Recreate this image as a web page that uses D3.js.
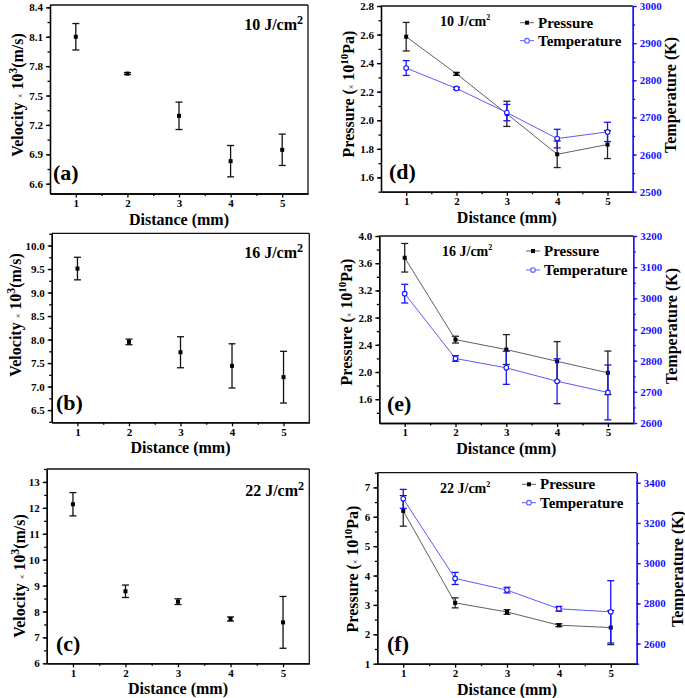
<!DOCTYPE html>
<html>
<head>
<meta charset="utf-8">
<title>Velocity, pressure and temperature vs distance</title>
<script src="https://cdn.jsdelivr.net/npm/d3@7/dist/d3.min.js"></script>
<style>
  body { margin: 0; background: #fff; }
  svg { display: block; font-family: "Liberation Serif", "Times New Roman", serif; font-weight: bold; }
  .axis text { font-family: "Liberation Serif", serif; font-weight: bold; font-size: 11px; }
  .axis path, .axis line { stroke-width: 1.3; }
</style>
</head>
<body>
<svg width="685" height="698"></svg>
<script>
// distances along the x axis (mm)
var distance = [1, 2, 3, 4, 5];

// velocity (x10^3 m/s) for the three fluences, with error half-widths
var velA = [8.10, 7.724, 7.293, 6.83, 6.946];
var velAErr = [0.135, 0.01, 0.14, 0.16, 0.16];
var velB = [9.51, 7.95, 7.73, 7.44, 7.20];
var velBErr = [0.24, 0.06, 0.33, 0.47, 0.55];
var velC = [12.14, 8.78, 8.38, 7.71, 7.58];
var velCErr = [0.45, 0.24, 0.11, 0.08, 1.0];

// pressure (x10^10 Pa) and temperature (K)
var presD = [2.585, 2.325, 2.045, 1.762, 1.83];
var presDErr = [0.1, 0.01, 0.088, 0.093, 0.098];
var tempD = [2833, 2778, 2713, 2643, 2661];
var tempDErr = [20, 3, 22, 25, 26];

var presE = [3.68, 2.476, 2.33, 2.157, 1.988];
var presEErr = [0.21, 0.05, 0.22, 0.29, 0.32];
var tempE = [3015, 2807, 2777, 2734, 2698];
var tempEErr = [30, 9, 53, 72, 88];

var presF = [6.2, 3.07, 2.76, 2.31, 2.23];
var presFErr = [0.52, 0.17, 0.08, 0.05, 0.58];
var tempF = [3320, 2924, 2866, 2773, 2758];
var tempFErr = [47, 30, 14, 12, 155];

// tick labels
var ticksA = [6.6, 6.9, 7.2, 7.5, 7.8, 8.1, 8.4];
var ticksB = [6.5, 7.0, 7.5, 8.0, 8.5, 9.0, 9.5, 10.0];
var ticksC = [6, 7, 8, 9, 10, 11, 12, 13];
var ticksD = [1.6, 1.8, 2.0, 2.2, 2.4, 2.6, 2.8];
var ticksDR = [2500, 2600, 2700, 2800, 2900, 3000];
var ticksE = [1.6, 2.0, 2.4, 2.8, 3.2, 3.6, 4.0];
var ticksER = [2600, 2700, 2800, 2900, 3000, 3100, 3200];
var ticksF = [1, 2, 3, 4, 5, 6, 7];
var ticksFR = [2600, 2800, 3000, 3200, 3400];

var BLUE = "#1414ff", LBLUE = "#5a5aff", GREY = "#606060";

var svg = d3.select("svg");

function range(a, b, s) {
  var out = [];
  for (var v = a; v <= b + 1e-9; v += s) out.push(+v.toFixed(4));
  return out;
}

// writes text made of pieces (for superscripts and the little ×)
function rich(t, parts) {
  parts.forEach(function(p) {
    var s = t.append("tspan").text(p.t);
    if (p.size) s.style("font-size", p.size + "px");
    if (p.dy) s.attr("dy", p.dy);
    if (p.w) s.style("font-weight", p.w);
  });
}

function velLabel(t) {
  rich(t, [{t: "Velocity "}, {t: "×", size: 8, w: "normal"}, {t: " 10"}, {t: "3", size: 12, dy: -6}, {t: "(m/s)", dy: 6}]);
}
function presLabel(t) {
  rich(t, [{t: "Pressure ("}, {t: "×", size: 8, w: "normal"}, {t: " 10"}, {t: "10", size: 11, dy: -6}, {t: "Pa)", dy: 6}]);
}

function drawPanel(p) {
  var x = d3.scaleLinear().domain([0.5, 5.5]).range([p.x0, p.x1]);
  var y = d3.scaleLinear().domain(p.yDom).range([p.y1, p.y0]);
  var g = svg.append("g");

  // frame top + right
  g.append("line").attr("x1", p.x0).attr("x2", p.x1).attr("y1", p.y0).attr("y2", p.y0)
    .attr("stroke", "#111").attr("stroke-width", 1.3);
  if (!p.right)
    g.append("line").attr("x1", p.x1).attr("x2", p.x1).attr("y1", p.y0).attr("y2", p.y1)
      .attr("stroke", "#111").attr("stroke-width", 1.3);

  // x axis
  g.append("g").attr("class", "axis").attr("transform", "translate(0," + p.y1 + ")")
    .call(d3.axisBottom(x).tickValues([1.5, 2.5, 3.5, 4.5]).tickSize(2.5).tickSizeOuter(0).tickFormat(""));
  g.append("g").attr("class", "axis").attr("transform", "translate(0," + p.y1 + ")")
    .call(d3.axisBottom(x).tickValues(distance).tickSize(4).tickPadding(1.5).tickSizeOuter(0).tickFormat(d3.format("d")));

  // left axis
  g.append("g").attr("class", "axis").attr("transform", "translate(" + p.x0 + ",0)")
    .call(d3.axisLeft(y).tickValues(range(p.yDom[0] + p.minorOff, p.yDom[1], p.minor)).tickSize(2.5).tickSizeOuter(0).tickFormat(""));
  g.append("g").attr("class", "axis").attr("transform", "translate(" + p.x0 + ",0)")
    .call(d3.axisLeft(y).tickValues(p.yTicks).tickSize(4).tickSizeOuter(0).tickFormat(d3.format(p.fmt)));

  // x title
  g.append("text").attr("x", (p.x0 + p.x1) / 2).attr("y", p.y1 + 31)
    .attr("text-anchor", "middle").style("font-size", "16px").text("Distance (mm)");

  // y title
  var yl = g.append("text").attr("transform", "translate(" + p.ylx + "," + p.yly + ") rotate(-90)")
    .attr("text-anchor", "middle").attr("dy", "0.35em").style("font-size", "16px");
  p.ylabel(yl);

  // panel letter
  g.append("text").attr("x", p.lx).attr("y", p.ly).style("font-size", "22px").text(p.letter);

  var yR = null;
  if (p.right) {
    yR = d3.scaleLinear().domain(p.right.dom).range([p.y1, p.y0]);
    var ra = g.append("g").attr("class", "axis").attr("transform", "translate(" + p.x1 + ",0)");
    ra.call(d3.axisRight(yR).tickValues(range(p.right.dom[0], p.right.dom[1], p.right.minor)).tickSize(2.5).tickSizeOuter(0).tickFormat(""));
    var rb = g.append("g").attr("class", "axis").attr("transform", "translate(" + p.x1 + ",0)")
      .call(d3.axisRight(yR).tickValues(p.right.ticks).tickSize(4).tickSizeOuter(0).tickFormat(d3.format("d")));
    ra.selectAll("path, line").attr("stroke", BLUE);
    rb.selectAll("path, line").attr("stroke", BLUE);
    rb.selectAll("text").attr("fill", BLUE);
    ra.select("path").attr("stroke-width", 1.6);
    g.append("text").attr("transform", "translate(" + p.right.lx + "," + p.right.ly + ") rotate(-90)")
      .attr("text-anchor", "middle").attr("dy", "0.35em").style("font-size", "16px").text("Temperature (K)");
  }

  // title of the fluence
  var tt = g.append("text").attr("x", p.tx).attr("y", p.ty).attr("text-anchor", p.tAnchor)
    .style("font-size", p.tSize + "px");
  rich(tt, [{t: p.fluence + " J/cm"}, {t: "2", size: p.supSize, dy: -6}]);

  p.series.forEach(function(s) {
    var sy = s.axis === "right" ? yR : y;
    var pts = distance.map(function(d, i) { return {x: d, v: s.values[i], e: s.errs[i]}; });
    if (s.line) {
      g.append("path").datum(pts).attr("fill", "none").attr("stroke", s.line).attr("stroke-width", 1)
        .attr("d", d3.line().x(function(d) { return x(d.x); }).y(function(d) { return sy(d.v); }));
    }
    var eb = g.append("g").attr("stroke", s.color).attr("stroke-width", 1.3).attr("fill", "none");
    pts.forEach(function(d) {
      var cx = x(d.x), t = sy(d.v + d.e), b = sy(d.v - d.e);
      eb.append("line").attr("x1", cx).attr("x2", cx).attr("y1", t).attr("y2", b);
      eb.append("line").attr("x1", cx - 3.5).attr("x2", cx + 3.5).attr("y1", t).attr("y2", t);
      eb.append("line").attr("x1", cx - 3.5).attr("x2", cx + 3.5).attr("y1", b).attr("y2", b);
    });
    if (s.marker === "circle") {
      g.selectAll(null).data(pts).enter().append("circle")
        .attr("cx", function(d) { return x(d.x); }).attr("cy", function(d) { return sy(d.v); })
        .attr("r", 2.3).attr("fill", "#fff").attr("stroke", s.color).attr("stroke-width", 1.1);
    } else {
      g.selectAll(null).data(pts).enter().append("rect")
        .attr("x", function(d) { return x(d.x) - 2; }).attr("y", function(d) { return sy(d.v) - 2; })
        .attr("width", 4).attr("height", 4).attr("fill", "#000");
    }
  });

  if (p.legend) {
    var L = p.legend;
    [{name: "Pressure", color: "#111", line: GREY, marker: "square", y: L.y1},
     {name: "Temperature", color: LBLUE, line: LBLUE, marker: "circle", y: L.y2}].forEach(function(it) {
      g.append("line").attr("x1", L.x).attr("x2", L.x + 14).attr("y1", it.y).attr("y2", it.y)
        .attr("stroke", it.line).attr("stroke-width", 1);
      if (it.marker === "circle")
        g.append("circle").attr("cx", L.x + 7).attr("cy", it.y).attr("r", 2.3)
          .attr("fill", "#fff").attr("stroke", it.color).attr("stroke-width", 1.1);
      else
        g.append("rect").attr("x", L.x + 5).attr("y", it.y - 2).attr("width", 4).attr("height", 4).attr("fill", "#000");
      g.append("text").attr("x", L.x + 18).attr("y", it.y + 5).style("font-size", "15px").text(it.name);
    });
  }
}

drawPanel({
  x0: 50, x1: 308, y0: 5, y1: 193.5, yDom: [6.5, 8.424], yTicks: ticksA, fmt: ".1f", minor: 0.15, minorOff: 0.1,
  ylabel: velLabel, ylx: 17, yly: 95, letter: "(a)", lx: 53, ly: 180,
  fluence: "10", tx: 303, ty: 30, tAnchor: "end", tSize: 16, supSize: 12,
  series: [{values: velA, errs: velAErr, color: "#111", marker: "square"}]
});
drawPanel({
  x0: 51.7, x1: 309.3, y0: 233.3, y1: 422.3, yDom: [6.24, 10.26], yTicks: ticksB, fmt: ".1f", minor: 0.25, minorOff: 0.01,
  ylabel: velLabel, ylx: 15, yly: 315, letter: "(b)", lx: 56, ly: 410,
  fluence: "16", tx: 303, ty: 258, tAnchor: "end", tSize: 16, supSize: 12,
  series: [{values: velB, errs: velBErr, color: "#111", marker: "square"}]
});
drawPanel({
  x0: 46.7, x1: 309.3, y0: 469, y1: 663.3, yDom: [6, 13.5], yTicks: ticksC, fmt: "d", minor: 0.5, minorOff: 0,
  ylabel: velLabel, ylx: 19, yly: 576, letter: "(c)", lx: 56, ly: 651,
  fluence: "22", tx: 304, ty: 496, tAnchor: "end", tSize: 16, supSize: 12,
  series: [{values: velC, errs: velCErr, color: "#111", marker: "square"}]
});
drawPanel({
  x0: 381, x1: 632.7, y0: 6, y1: 191.7, yDom: [1.5, 2.8], yTicks: ticksD, fmt: ".1f", minor: 0.1, minorOff: 0,
  ylabel: presLabel, ylx: 348, yly: 94, letter: "(d)", lx: 389, ly: 179,
  fluence: "10", tx: 440, ty: 25.5, tAnchor: "start", tSize: 14, supSize: 8,
  right: {dom: [2500, 3000], ticks: ticksDR, minor: 50, lx: 670, ly: 95},
  legend: {x: 520, y1: 22.7, y2: 40.7},
  series: [
    {values: presD, errs: presDErr, color: "#222", marker: "square", line: GREY},
    {values: tempD, errs: tempDErr, color: BLUE, marker: "circle", line: LBLUE, axis: "right"}
  ]
});
drawPanel({
  x0: 379.3, x1: 633.3, y0: 236, y1: 423, yDom: [1.25, 4.0], yTicks: ticksE, fmt: ".1f", minor: 0.2, minorOff: 0.15,
  ylabel: presLabel, ylx: 346, yly: 322, letter: "(e)", lx: 387, ly: 411,
  fluence: "16", tx: 442, ty: 256, tAnchor: "start", tSize: 14, supSize: 8,
  right: {dom: [2600, 3200], ticks: ticksER, minor: 50, lx: 671, ly: 326},
  legend: {x: 526, y1: 251, y2: 270},
  series: [
    {values: presE, errs: presEErr, color: "#222", marker: "square", line: GREY},
    {values: tempE, errs: tempEErr, color: BLUE, marker: "circle", line: LBLUE, axis: "right"}
  ]
});
drawPanel({
  x0: 377.3, x1: 636.7, y0: 472.7, y1: 663.7, yDom: [1, 7.5], yTicks: ticksF, fmt: "d", minor: 0.5, minorOff: 0,
  ylabel: presLabel, ylx: 352, yly: 569, letter: "(f)", lx: 387, ly: 651,
  fluence: "22", tx: 440, ty: 493, tAnchor: "start", tSize: 14, supSize: 8,
  right: {dom: [2500, 3450], ticks: ticksFR, minor: 100, lx: 677, ly: 569},
  legend: {x: 522, y1: 484.3, y2: 502.7},
  series: [
    {values: presF, errs: presFErr, color: "#222", marker: "square", line: GREY},
    {values: tempF, errs: tempFErr, color: BLUE, marker: "circle", line: LBLUE, axis: "right"}
  ]
});
</script>
</body>
</html>
